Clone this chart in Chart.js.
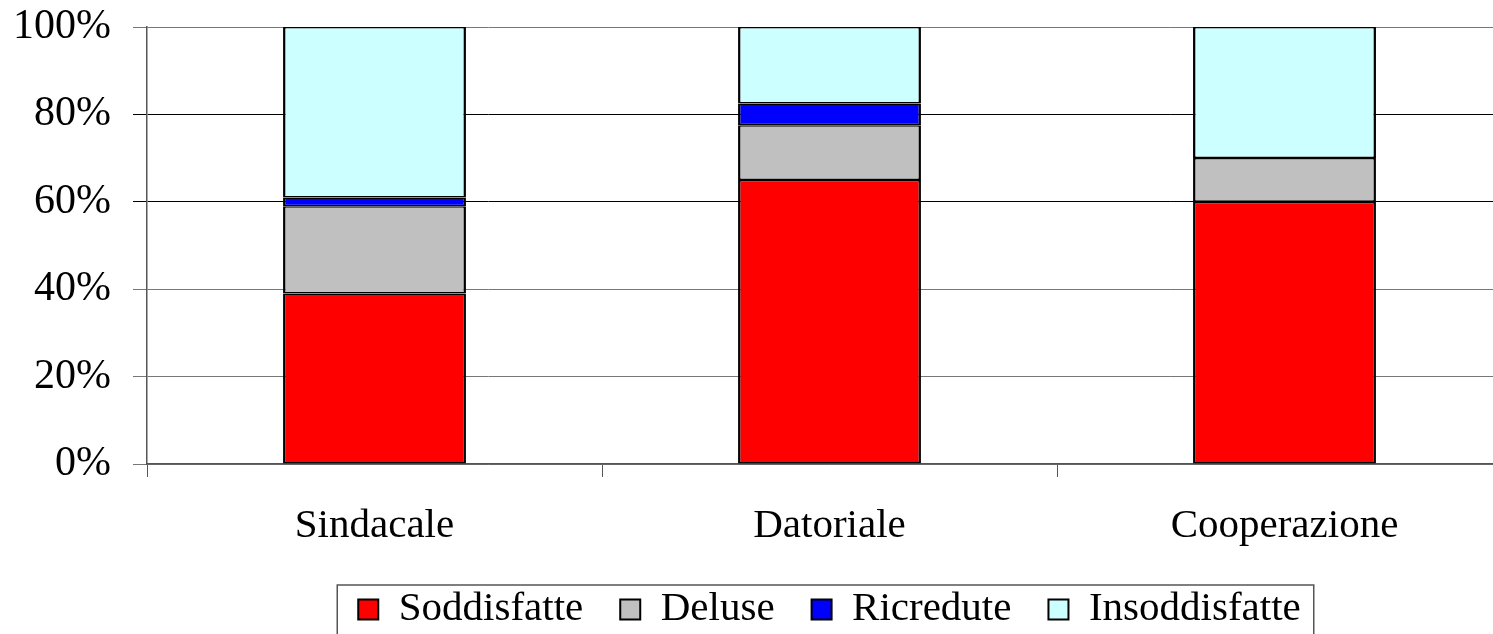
<!DOCTYPE html>
<html>
<head>
<meta charset="utf-8">
<script src="https://cdn.jsdelivr.net/npm/chart.js@4"></script>
<style>
  html, body { margin: 0; padding: 0; background: #fff; overflow: hidden; }
  #wrap { position: relative; width: 1512px; height: 640px; }
</style>
</head>
<body>
<div id="wrap"><canvas id="barChart"></canvas></div>
<script>
const categories = ['Sindacale', 'Datoriale', 'Cooperazione'];
const soddisfatte = [39, 65, 60];
const deluse = [20, 12.5, 10];
const ricredute = [2, 5, 0];
const insoddisfatte = [39, 17.5, 30];
const yTicks = [0, 20, 40, 60, 80, 100];

const serif = "'Liberation Serif', 'Times New Roman', serif";

// frame drawn round the legend items
const legendFrame = {
    id: 'legendFrame',
    afterDraw(chart) {
        const boxes = chart.legend.legendHitBoxes;
        if (!boxes || !boxes.length) return;
        const first = boxes[0], last = boxes[boxes.length - 1];
        const ctx = chart.ctx;
        ctx.save();
        ctx.strokeStyle = '#555';
        ctx.lineWidth = 1.5;
        ctx.strokeRect(first.left - 21, first.top - 4, last.left + last.width - first.left + 34, 200);
        ctx.restore();
    }
};

document.addEventListener('DOMContentLoaded', () => {
    const ctx = document.getElementById('barChart').getContext('2d');
    const mk = (label, data, color) => ({
        label: label,
        data: data,
        backgroundColor: color,
        borderColor: '#000',
        borderWidth: { left: 2.5, right: 2.5, top: 1.5, bottom: 1.5 },
        borderSkipped: false,
        barPercentage: 0.402,
        categoryPercentage: 1.0
    });
    new Chart(ctx, {
        type: 'bar',
        data: {
            labels: categories,
            datasets: [
                mk('Soddisfatte', soddisfatte, '#FF0000'),
                mk('Deluse', deluse, '#C0C0C0'),
                mk('Ricredute', ricredute, '#0000FF'),
                mk('Insoddisfatte', insoddisfatte, '#CCFFFF')
            ]
        },
        options: {
            responsive: true,
            maintainAspectRatio: false,
            animation: false,
            layout: { padding: { top: 27, right: 0, left: 0, bottom: 0 } },
            scales: {
                x: {
                    stacked: true,
                    grid: { drawOnChartArea: false, drawTicks: true, tickLength: 13, color: '#555' },
                    border: { color: '#555', width: 1.5 },
                    ticks: { color: '#000', font: { family: serif, size: 41 }, padding: 25 },
                    afterFit: (scale) => { scale.height = 88; }
                },
                y: {
                    stacked: true,
                    min: 0,
                    max: 100,
                    afterBuildTicks: (scale) => { scale.ticks = yTicks.map(v => ({ value: v })); },
                    grid: {
                        tickLength: 14,
                        color: (c) => (c.tick && (c.tick.value === 60 || c.tick.value === 80)) ? '#000' : '#777'
                    },
                    border: { color: '#555', width: 1.5 },
                    ticks: {
                        color: '#000',
                        font: { family: serif, size: 42 },
                        padding: 22,
                        callback: (v) => v + '%'
                    },
                    afterFit: (scale) => {
                        scale.width = 147;
                        scale.paddingTop = 0;
                        scale.paddingBottom = 0;
                    }
                }
            },
            plugins: {
                legend: {
                    display: true,
                    position: 'bottom',
                    fullSize: false,
                    labels: {
                        color: '#000',
                        font: { family: serif, size: 41 },
                        boxWidth: 20,
                        boxHeight: 20,
                        padding: 37
                    }
                },
                tooltip: { enabled: false }
            }
        },
        plugins: [legendFrame]
    });
});
</script>
</body>
</html>
